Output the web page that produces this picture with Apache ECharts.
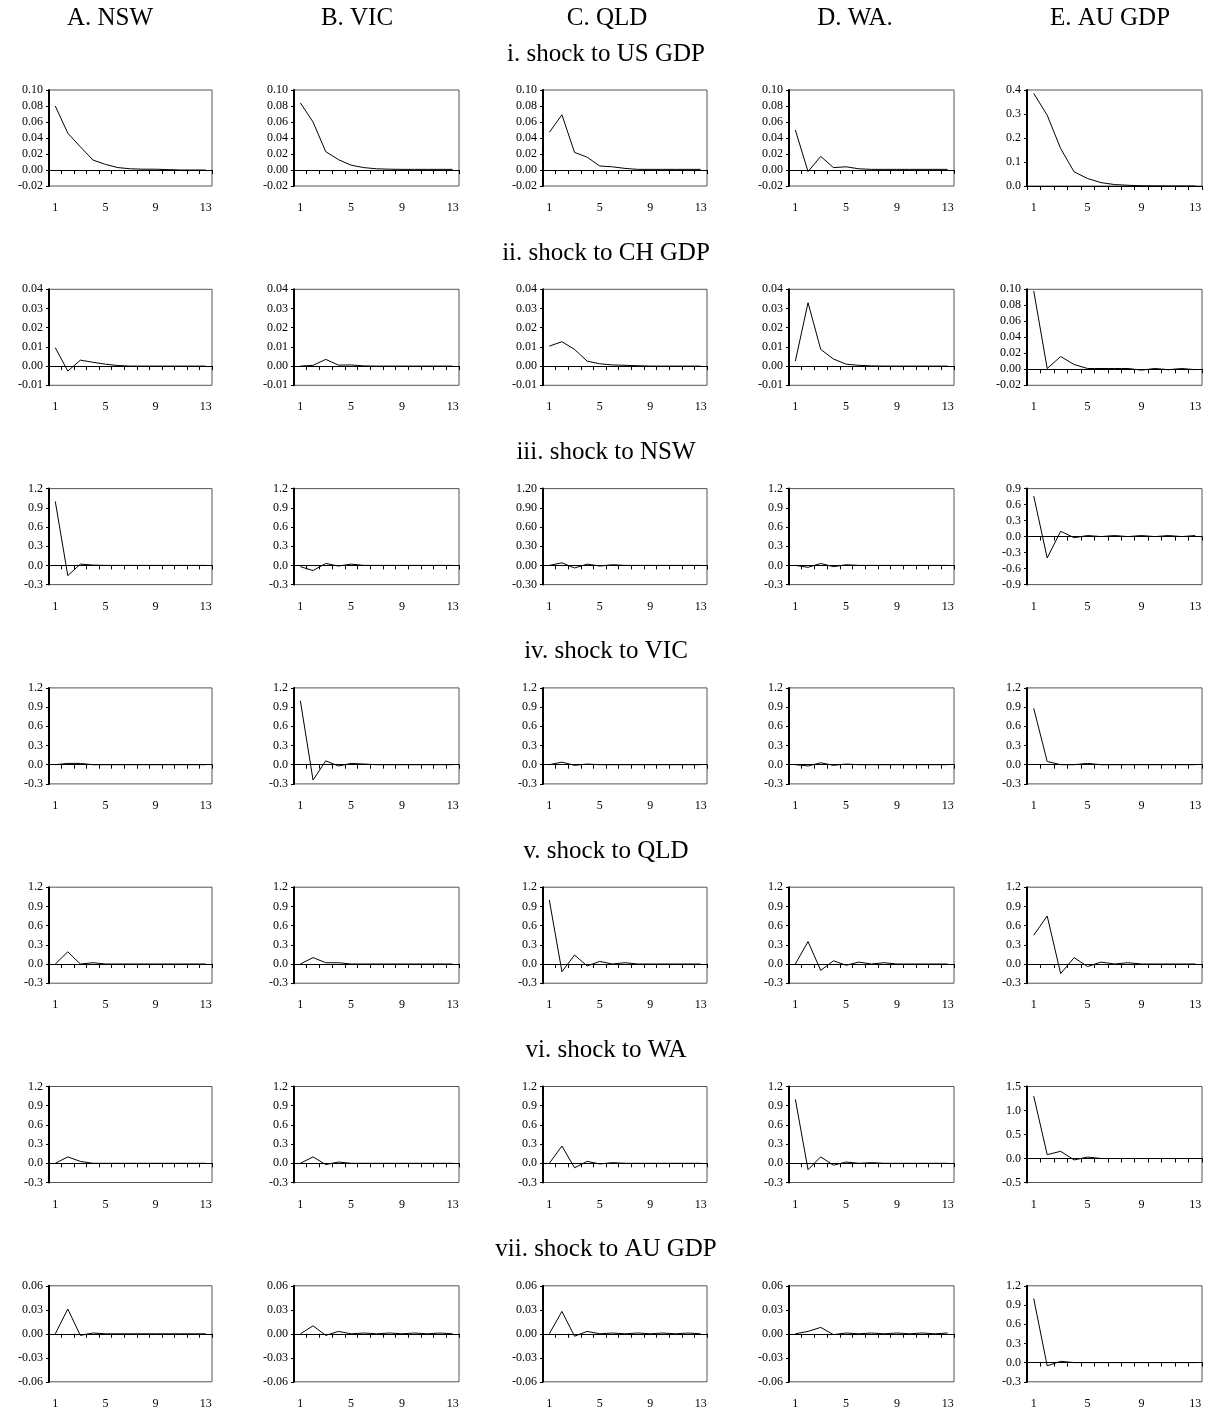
<!DOCTYPE html>
<html>
<head>
<meta charset="utf-8">
<script src="https://cdn.jsdelivr.net/npm/echarts@6/dist/echarts.min.js"></script>
<style>
  html, body { margin: 0; padding: 0; background: #fff; }
  #chart { width: 1213px; height: 1413px; }
</style>
</head>
<body>
<div id="chart"></div>
<script>
// Data
const horizons = ['1', '2', '3', '4', '5', '6', '7', '8', '9', '10', '11', '12', '13'];
const columnTitles = ['A. NSW', 'B. VIC', 'C. QLD', 'D. WA.', 'E. AU GDP'];
const rowTitles = [
  'i. shock to US GDP', 'ii. shock to CH GDP', 'iii. shock to NSW', 'iv. shock to VIC',
  'v. shock to QLD', 'vi. shock to WA', 'vii. shock to AU GDP'
];

// i. shock to US GDP
const usNSW = [0.080, 0.046, 0.029, 0.0125, 0.007, 0.003, 0.0015, 0.001, 0.001, 0.0005, 0, 0, 0];
const usVIC = [0.084, 0.060, 0.023, 0.013, 0.006, 0.003, 0.0015, 0.001, 0.0008, 0.0008, 0.0008, 0.0008, 0.0008];
const usQLD = [0.047, 0.069, 0.022, 0.016, 0.005, 0.004, 0.002, 0.0008, 0.0008, 0.0008, 0.0008, 0.0008, 0.0008];
const usWA = [0.050, -0.002, 0.017, 0.003, 0.004, 0.0015, 0.0008, 0.0008, 0.0008, 0.0008, 0.0008, 0.0008, 0.0008];
const usAU = [0.386, 0.295, 0.156, 0.059, 0.031, 0.014, 0.006, 0.003, 0.001, 0.0005, 0, 0, 0];

// ii. shock to CH GDP
const chNSW = [0.0096, -0.0026, 0.0031, 0.002, 0.001, 0.0003, 0, 0, 0, 0, 0, 0, 0];
const chVIC = [0, 0.0004, 0.0035, 0.0005, 0.0006, 0.0001, 0, 0, 0, 0, 0, 0, 0];
const chQLD = [0.0104, 0.0127, 0.0087, 0.0026, 0.0012, 0.0006, 0.0004, 0.0002, 0, 0, 0, 0, 0];
const chWA = [0.0026, 0.033, 0.0087, 0.0037, 0.0010, 0.0004, 0.0001, 0, 0, 0, 0, 0, 0];
const chAU = [0.098, 0.001, 0.016, 0.006, 0.001, 0.001, 0.001, 0.001, -0.001, 0.001, -0.0005, 0.001, -0.0005];

// iii. shock to NSW
const nswNSW = [1.0, -0.16, 0.02, 0.005, 0, 0, 0, 0, 0, 0, 0, 0, 0];
const nswVIC = [-0.02, -0.08, 0.03, -0.01, 0.02, 0, 0, 0, 0, 0, 0, 0, 0];
const nswQLD = [0, 0.04, -0.04, 0.02, -0.01, 0.01, 0, 0, 0, 0, 0, 0, 0];
const nswWA = [0, -0.03, 0.03, -0.02, 0.01, 0, 0, 0, 0, 0, 0, 0, 0];
const nswAU = [0.76, -0.40, 0.10, -0.02, 0.02, 0, 0.02, 0, 0.02, 0, 0.02, 0, 0.02];

// iv. shock to VIC
const vicNSW = [0, 0.02, 0.02, 0, 0, 0, 0, 0, 0, 0, 0, 0, 0];
const vicVIC = [1.0, -0.24, 0.06, -0.02, 0.02, 0.01, 0, 0, 0, 0, 0, 0, 0];
const vicQLD = [0, 0.04, -0.01, 0.01, 0, 0, 0, 0, 0, 0, 0, 0, 0];
const vicWA = [0, -0.02, 0.03, -0.01, 0.01, 0, 0, 0, 0, 0, 0, 0, 0];
const vicAU = [0.88, 0.05, 0, 0, 0.02, 0, 0, 0, 0, 0, 0, 0, 0];

// v. shock to QLD
const qldNSW = [0, 0.19, 0, 0.02, 0, 0, 0, 0, 0, 0, 0, 0, 0];
const qldVIC = [0, 0.10, 0.02, 0.02, 0, 0, 0, 0, 0, 0, 0, 0, 0];
const qldQLD = [1.0, -0.12, 0.14, -0.03, 0.04, 0, 0.02, 0, 0, 0, 0, 0, 0];
const qldWA = [0, 0.35, -0.10, 0.05, -0.02, 0.03, 0, 0.02, 0, 0, 0, 0, 0];
const qldAU = [0.45, 0.75, -0.15, 0.10, -0.04, 0.03, 0, 0.02, 0, 0, 0, 0, 0];

// vi. shock to WA
const waNSW = [0, 0.10, 0.03, 0, 0, 0, 0, 0, 0, 0, 0, 0, 0];
const waVIC = [0, 0.10, -0.02, 0.02, 0, 0, 0, 0, 0, 0, 0, 0, 0];
const waQLD = [0, 0.27, -0.07, 0.03, -0.01, 0.01, 0, 0, 0, 0, 0, 0, 0];
const waWA = [1.0, -0.10, 0.10, -0.03, 0.02, 0, 0.01, 0, 0, 0, 0, 0, 0];
const waAU = [1.30, 0.08, 0.15, -0.03, 0.03, 0, 0, 0, 0, 0, 0, 0, 0];

// vii. shock to AU GDP
const auNSW = [0, 0.031, -0.002, 0.001, 0, 0, 0, 0, 0, 0, 0, 0, 0];
const auVIC = [0, 0.010, -0.002, 0.003, 0, 0.001, 0, 0.001, 0, 0.001, 0, 0.001, 0];
const auQLD = [0, 0.028, -0.003, 0.003, 0, 0.001, 0, 0.001, 0, 0.001, 0, 0.001, 0];
const auWA = [0, 0.003, 0.008, -0.001, 0.001, 0, 0.001, 0, 0.001, 0, 0.001, 0, 0.001];
const auAU = [1.0, -0.05, 0.02, 0, 0, 0, 0, 0, 0, 0, 0, 0, 0];

// y axis ranges per row, one entry per column
const yMins = [
  [-0.02, -0.02, -0.02, -0.02, 0],
  [-0.01, -0.01, -0.01, -0.01, -0.02],
  [-0.3, -0.3, -0.3, -0.3, -0.9],
  [-0.3, -0.3, -0.3, -0.3, -0.3],
  [-0.3, -0.3, -0.3, -0.3, -0.3],
  [-0.3, -0.3, -0.3, -0.3, -0.5],
  [-0.06, -0.06, -0.06, -0.06, -0.3]
];
const yMaxs = [
  [0.10, 0.10, 0.10, 0.10, 0.4],
  [0.04, 0.04, 0.04, 0.04, 0.10],
  [1.2, 1.2, 1.2, 1.2, 0.9],
  [1.2, 1.2, 1.2, 1.2, 1.2],
  [1.2, 1.2, 1.2, 1.2, 1.2],
  [1.2, 1.2, 1.2, 1.2, 1.5],
  [0.06, 0.06, 0.06, 0.06, 1.2]
];
const ySteps = [
  [0.02, 0.02, 0.02, 0.02, 0.1],
  [0.01, 0.01, 0.01, 0.01, 0.02],
  [0.3, 0.3, 0.3, 0.3, 0.3],
  [0.3, 0.3, 0.3, 0.3, 0.3],
  [0.3, 0.3, 0.3, 0.3, 0.3],
  [0.3, 0.3, 0.3, 0.3, 0.5],
  [0.03, 0.03, 0.03, 0.03, 0.3]
];
const yDecimals = [
  [2, 2, 2, 2, 1],
  [2, 2, 2, 2, 2],
  [1, 1, 2, 1, 1],
  [1, 1, 1, 1, 1],
  [1, 1, 1, 1, 1],
  [1, 1, 1, 1, 1],
  [2, 2, 2, 2, 1]
];

const panels = [
  [usNSW, usVIC, usQLD, usWA, usAU],
  [chNSW, chVIC, chQLD, chWA, chAU],
  [nswNSW, nswVIC, nswQLD, nswWA, nswAU],
  [vicNSW, vicVIC, vicQLD, vicWA, vicAU],
  [qldNSW, qldVIC, qldQLD, qldWA, qldAU],
  [waNSW, waVIC, waQLD, waWA, waAU],
  [auNSW, auVIC, auQLD, auWA, auAU]
];

// layout
const colLeft = [49, 294, 543, 789, 1027];
const colWidth = [163, 165, 164, 165, 175];
const colCenter = [110, 357, 607, 855, 1110];
const rowTop = 90;
const rowStep = 199.3;
const panelHeight = 96;
const SERIF = '"Liberation Serif", "DejaVu Serif", serif';

const chart = echarts.init(document.getElementById('chart'), null, { renderer: 'canvas' });

const grid = [];
const xAxis = [];
const yAxis = [];
const series = [];
const graphic = [];

columnTitles.forEach((t, c) => {
  graphic.push({
    type: 'text',
    x: colCenter[c],
    y: 18,
    style: { text: t, font: '25px ' + SERIF, fill: '#000', textAlign: 'center', textVerticalAlign: 'middle' }
  });
});

rowTitles.forEach((t, r) => {
  graphic.push({
    type: 'text',
    x: 606,
    y: 54 + rowStep * r,
    style: { text: t, font: '25px ' + SERIF, fill: '#000', textAlign: 'center', textVerticalAlign: 'middle' }
  });
});

panels.forEach((row, r) => {
  row.forEach((values, c) => {
    const g = grid.length;
    const dec = yDecimals[r][c];
    grid.push({
      left: colLeft[c],
      top: rowTop + rowStep * r,
      width: colWidth[c],
      height: panelHeight,
      show: true,
      borderColor: '#555',
      borderWidth: 1,
      containLabel: false
    });
    // zero line with ticks
    xAxis.push({
      type: 'category',
      gridIndex: g,
      data: horizons,
      boundaryGap: true,
      axisLine: { show: true, onZero: true, lineStyle: { color: '#000', width: 1 } },
      axisTick: { show: true, interval: 0, length: 4, lineStyle: { color: '#000', width: 1 } },
      axisLabel: { show: false },
      splitLine: { show: false }
    });
    // bottom labels
    xAxis.push({
      type: 'category',
      gridIndex: g,
      data: horizons,
      boundaryGap: true,
      position: 'bottom',
      offset: 8,
      axisLine: { show: false },
      axisTick: { show: false },
      axisLabel: { show: true, interval: 3, fontFamily: SERIF, fontSize: 12, color: '#000' },
      splitLine: { show: false }
    });
    yAxis.push({
      type: 'value',
      gridIndex: g,
      min: yMins[r][c],
      max: yMaxs[r][c],
      interval: ySteps[r][c],
      axisLine: { show: true, lineStyle: { color: '#000', width: 2 } },
      axisTick: { show: true, length: 3, lineStyle: { color: '#000' } },
      axisLabel: {
        fontFamily: SERIF,
        fontSize: 12,
        color: '#000',
        margin: 6,
        formatter: (v) => v.toFixed(dec)
      },
      splitLine: { show: false }
    });
    series.push({
      type: 'line',
      xAxisIndex: g * 2,
      yAxisIndex: g,
      data: values,
      symbol: 'none',
      silent: true,
      animation: false,
      lineStyle: { color: '#000', width: 1 }
    });
  });
});

chart.setOption({
  backgroundColor: '#fff',
  animation: false,
  graphic,
  grid,
  xAxis,
  yAxis,
  series
});
</script>
</body>
</html>
